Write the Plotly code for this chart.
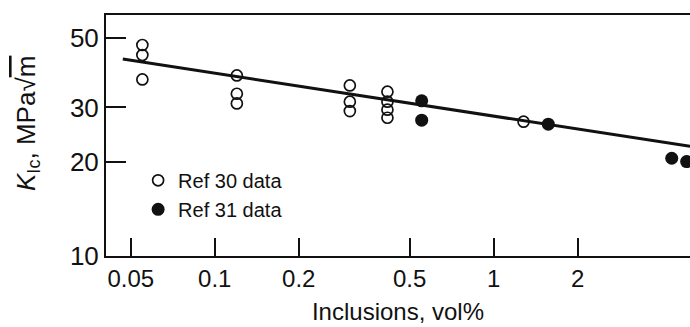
import plotly.graph_objects as go

# Ref 30 data (open circles)
ref30_x = [0.055, 0.055, 0.055, 0.12, 0.12, 0.12, 0.305, 0.305, 0.305, 0.416, 0.416, 0.416, 0.416, 1.28]
ref30_y = [47.6, 44.2, 36.9, 38.0, 33.2, 30.9, 35.3, 31.3, 29.2, 33.7, 31.3, 29.5, 27.8, 27.0]
# Ref 31 data (filled circles)
ref31_x = [0.552, 0.552, 1.57, 4.35, 4.92]
ref31_y = [31.5, 27.3, 26.5, 20.6, 20.1]
# fitted trend line end points
fit_x = [0.0468, 5.06]
fit_y = [42.9, 22.5]

x_ticks = [0.05, 0.1, 0.2, 0.5, 1, 2]
x_ticktext = ["0.05", "0.1", "0.2", "0.5", "1", "2"]
y_ticks = [10, 20, 30, 50]
y_ticktext = ["10", "20", "30", "50"]

FONT = "Liberation Sans, Arial, Helvetica, sans-serif"
INK = "#111111"

fig = go.Figure()
fig.add_trace(go.Scatter(
    x=fit_x, y=fit_y, mode="lines", showlegend=False,
    line=dict(color=INK, width=3), hoverinfo="skip"))
fig.add_trace(go.Scatter(
    x=ref30_x, y=ref30_y, mode="markers", name="Ref 30 data",
    marker=dict(symbol="circle-open", size=11, color=INK, line=dict(width=1.7, color=INK))))
fig.add_trace(go.Scatter(
    x=ref31_x, y=ref31_y, mode="markers", name="Ref 31 data",
    marker=dict(symbol="circle", size=13, color=INK, line=dict(width=0))))

fig.update_layout(
    width=690, height=327,
    margin=dict(l=106, r=0, t=15, b=71),
    paper_bgcolor="white", plot_bgcolor="white",
    font=dict(family=FONT, size=24, color=INK),
    showlegend=True,
    legend=dict(x=0.055, y=0.395, xanchor="left", yanchor="top",
                bgcolor="rgba(0,0,0,0)", font=dict(size=20, color=INK),
                itemwidth=30, tracegroupgap=0),
)
fig.update_xaxes(
    type="log", range=[-1.390, 0.704],
    tickvals=x_ticks, ticktext=x_ticktext,
    ticks="inside", ticklen=18, tickwidth=2, tickcolor=INK,
    showline=True, linewidth=2, linecolor=INK, mirror=True,
    showgrid=False, zeroline=False,
    tickfont=dict(size=24),
    title=dict(text="Inclusions, vol%", font=dict(size=24), standoff=12),
)
fig.update_yaxes(
    type="log", range=[1.0, 1.774],
    tickvals=y_ticks, ticktext=y_ticktext,
    ticks="inside", ticklen=20, tickwidth=2, tickcolor=INK,
    showline=True, linewidth=2, linecolor=INK, mirror=False,
    showgrid=False, zeroline=False,
    tickfont=dict(size=26),
)
fig.add_annotation(
    xref="paper", yref="paper",
    x=(28 - 106) / 584, y=(256 - 124) / 241,
    xanchor="center", yanchor="middle", textangle=-90, showarrow=False,
    text="<i>K</i><sub>Ic</sub>, MPa√<span style='text-decoration:overline'>m</span>",
    font=dict(size=26, color=INK),
)

fig.write_html("out.html")
